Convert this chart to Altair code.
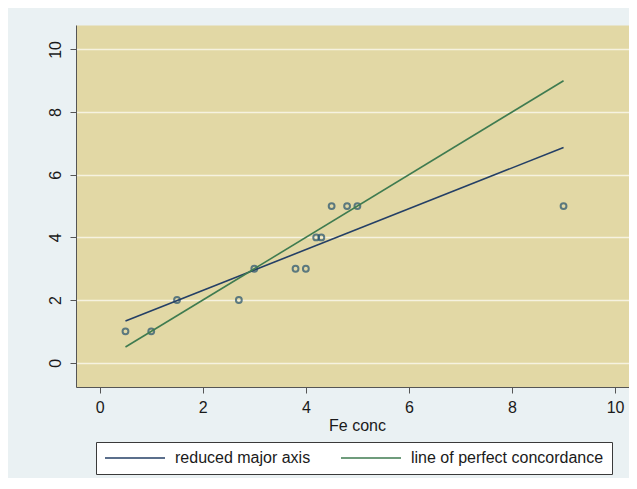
import altair as alt
import pandas as pd

# ---- data ----
fe_conc = [0.5, 1.0, 1.5, 2.7, 3.0, 3.8, 4.0, 4.2, 4.3, 4.5, 4.8, 5.0, 9.0]
score = [1, 1, 2, 2, 3, 3, 3, 4, 4, 5, 5, 5, 5]

series_names = ["reduced major axis", "line of perfect concordance"]
rma_x = [0.5, 9.0]
rma_y = [1.33, 6.87]
conc_x = [0.5, 9.0]
conc_y = [0.5, 9.0]

x_ticks = [0, 2, 4, 6, 8, 10]
y_ticks = [0, 2, 4, 6, 8, 10]
series_colors = ["#243f66", "#3f7b50"]

FONT = "Liberation Sans"
TXT = "#1a1a1a"
AX = "#555555"

pts = pd.DataFrame({"x": fe_conc, "y": score})
lines = pd.DataFrame({
    "x": rma_x + conc_x,
    "y": rma_y + conc_y,
    "series": [series_names[0]] * len(rma_x) + [series_names[1]] * len(conc_x),
})

xscale = alt.Scale(domain=[-0.46, 10.27], nice=False, zero=False)
yscale = alt.Scale(domain=[-0.776, 10.78], nice=False, zero=False)

xaxis = alt.Axis(values=x_ticks, title="Fe conc", grid=False, domainColor=AX, domainWidth=1,
                 tickColor=AX, tickSize=6, labelPadding=6, labelFontSize=16, labelFont=FONT,
                 labelColor=TXT, labelFlush=False, labelOverlap=False,
                 titleFont=FONT, titleFontSize=16, titleFontWeight="normal", titleColor=TXT,
                 titleX=281, titleY=30, titleAlign="center", titleBaseline="top")
yaxis = alt.Axis(values=y_ticks, title=None, grid=True, gridColor="#F6F2E0", gridWidth=1.5,
                 domainColor=AX, domainWidth=1, tickColor=AX, tickSize=6,
                 labelAngle=270, labelAlign="center", labelBaseline="bottom", labelPadding=7,
                 labelFontSize=16, labelFont=FONT, labelColor=TXT, labelFlush=False,
                 labelOverlap=False)

x_enc = alt.X("x:Q", scale=xscale, axis=xaxis)
y_enc = alt.Y("y:Q", scale=yscale, axis=yaxis)

points = alt.Chart(pts).mark_point(filled=False, color="#22506e", size=34, strokeWidth=2).encode(
    x=x_enc, y=y_enc
)

legend = alt.Legend(
    title=None, orient="none", legendX=20, legendY=417, direction="horizontal", columns=2,
    symbolType="stroke", symbolSize=3600, symbolStrokeWidth=1.5,
    labelFontSize=16, labelFont=FONT, labelColor=TXT, labelOffset=9, labelLimit=400,
    columnPadding=29, padding=8, strokeColor="#3a3a3a", fillColor="#ffffff", clipHeight=16,
)

line_layer = alt.Chart(lines).mark_line(strokeWidth=1.6).encode(
    x=x_enc, y=y_enc,
    color=alt.Color("series:N", scale=alt.Scale(domain=series_names, range=series_colors),
                    sort=series_names, legend=legend),
)

chart = alt.layer(points, line_layer).properties(
    width=553, height=362, background="#EAF1F3",
    padding={"left": 68, "top": 17, "right": 0, "bottom": 91},
    autosize=alt.AutoSizeParams(type="none"),
).configure_view(fill="#E2D8A5", stroke="transparent")

chart.save("out.html", embed_options={"renderer": "svg", "actions": False})
